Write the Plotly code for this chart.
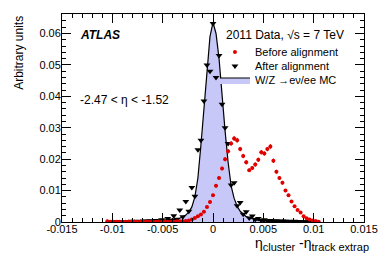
import numpy as np
import plotly.graph_objects as go

# bin centres of the eta difference histogram
eta_centres = np.round(np.arange(-0.0105, 0.01051, 0.0003), 5)

# W/Z -> enu/ee MC (filled histogram)
mc_values = [
    0.00003, 0.00004, 0.00005, 0.00006, 0.00007,
    0.00008, 0.00009, 0.00010, 0.00012, 0.00014,
    0.00016, 0.00018, 0.00020, 0.00022, 0.00024,
    0.00026, 0.00029, 0.00032, 0.00036, 0.00040,
    0.0005, 0.0006, 0.0007, 0.0009, 0.0012,
    0.0016, 0.0022, 0.0032, 0.0048, 0.0080,
    0.0140, 0.0245, 0.0360, 0.0490, 0.0590,
    0.0635,
    0.0600, 0.0520, 0.0400, 0.0290, 0.0190,
    0.0115, 0.0075, 0.0050, 0.0034, 0.0024,
    0.0017, 0.0013, 0.0010, 0.0008, 0.0006,
    0.0005, 0.00045, 0.00040, 0.00036, 0.00032,
    0.00028, 0.00025, 0.00022, 0.00020, 0.00018,
    0.00016, 0.00014, 0.00012, 0.00010, 0.00009,
    0.00008, 0.00007, 0.00005, 0.00004, 0.00003,
]

# data after alignment (black triangles)
after_values = [
    None, None, 0.0001, 0.00006, 0.00012,
    0.00008, 0.00015, 0.0001, 0.0002, 0.00014,
    0.00025, 0.00018, 0.0003, 0.00022, 0.0004,
    0.00026, 0.0005, 0.00032, 0.0007, 0.0004,
    0.0011, 0.0006, 0.0020, 0.0009, 0.0038,
    0.0017, 0.0065, 0.0034, 0.0110, 0.0082,
    0.0230, 0.0260, 0.0385, 0.0500, 0.0480,
    0.0632,
    0.0460, 0.0530, 0.0375, 0.0300, 0.0250,
    0.0118, 0.0125, 0.0052, 0.0062, 0.0025,
    0.0033, 0.0013, 0.0019, 0.0008, 0.0011,
    0.0005, 0.0007, 0.0004, 0.0005, 0.00032,
    0.0004, 0.00025, 0.0003, 0.0002, 0.00025,
    0.00016, 0.0002, 0.00012, 0.00015, 0.00009,
    0.0001, 0.00007, None, None, None,
]

# data before alignment (red points)
before_values = [
    0.0002, 0.0001, 0.0001, 0.0001, 0.0001,
    0.0001, 0.0001, 0.0001, 0.0001, 0.0001,
    0.0001, 0.0001, 0.0001, 0.0001, 0.0001,
    0.0001, 0.0001, 0.0001, 0.0001, 0.0001,
    0.0001, 0.0001, 0.0001, 0.0002, 0.0002,
    0.0002, 0.0003, 0.0005, 0.0008, 0.0013,
    0.0018, 0.0024, 0.0033, 0.0048, 0.0064,
    0.0085,
    0.0115, 0.0140, 0.0170, 0.0200, 0.0225,
    0.0250, 0.0266, 0.0260, 0.0232, 0.0210,
    0.0190, 0.0165, 0.0172, 0.0183, 0.0198,
    0.0222, 0.0218, 0.0232, 0.0240, 0.0195,
    0.0160, 0.0140, 0.0125, 0.0100, 0.0085,
    0.0065, 0.0050, 0.0038, 0.0030, 0.0018,
    0.0012, 0.0008, 0.0005, 0.0003, 0.0001,
]
before_errors = [
    0.0001, 0.0001, 0.0001, 0.0001, 0.0001,
    0.0001, 0.0001, 0.0001, 0.0001, 0.0001,
    0.0001, 0.0001, 0.0001, 0.0001, 0.0001,
    0.0001, 0.0001, 0.0001, 0.0001, 0.0001,
    0.0001, 0.0001, 0.0001, 0.0001, 0.0001,
    0.0001, 0.0002, 0.0002, 0.0002, 0.0003,
    0.0003, 0.0003, 0.0004, 0.0004, 0.0005,
    0.0005,
    0.0006, 0.0006, 0.0006, 0.0007, 0.0007,
    0.0007, 0.0008, 0.0008, 0.0007, 0.0007,
    0.0007, 0.0006, 0.0006, 0.0007, 0.0007,
    0.0007, 0.0007, 0.0007, 0.0008, 0.0007,
    0.0006, 0.0006, 0.0006, 0.0005, 0.0005,
    0.0004, 0.0004, 0.0003, 0.0003, 0.0003,
    0.0002, 0.0002, 0.0001, 0.0001, 0.0001,
]

x_tick_vals = [-0.015, -0.01, -0.005, 0, 0.005, 0.01, 0.015]
x_tick_text = ["-0.015", "-0.01", "-0.005", "0", "0.005", "0.01", "0.015"]
y_tick_vals = [0, 0.01, 0.02, 0.03, 0.04, 0.05, 0.06]
y_tick_text = ["0", "0.01", "0.02", "0.03", "0.04", "0.05", "0.06"]

FONT = "Liberation Sans, Arial, sans-serif"

fig = go.Figure()
fig.add_trace(go.Scatter(
    x=eta_centres, y=mc_values, mode="lines",
    line=dict(color="black", width=1.2, shape="linear"),
    fill="tozeroy", fillcolor="#c8c8f8",
    name="W/Z \u2192e\u03bd/ee MC", legend="legend3",
))
fig.add_trace(go.Scatter(
    x=eta_centres, y=after_values, mode="markers",
    marker=dict(symbol="triangle-down", size=6, color="black"),
    name="After alignment", legend="legend2",
))
fig.add_trace(go.Scatter(
    x=eta_centres, y=before_values, mode="markers",
    marker=dict(symbol="circle", size=4, color="#e00000"),
    error_y=dict(type="data", array=before_errors, color="#e00000", thickness=1, width=0),
    error_x=dict(type="constant", value=0.00015, color="#e00000", thickness=1, width=0),
    name="Before alignment", legend="legend",
))

def leg(ypix):
    return dict(
        x=(218 - 62) / 308, y=1 - (ypix - 14) / 208, xanchor="left", yanchor="middle",
        bgcolor="rgba(0,0,0,0)", borderwidth=0, itemwidth=30,
        font=dict(family=FONT, size=11, color="black"),
    )

axis_common = dict(
    showline=True, linecolor="black", linewidth=1, mirror="ticks",
    ticks="inside", tickcolor="black", ticklen=9, tickwidth=1,
    showgrid=False, zeroline=False,
    tickfont=dict(family=FONT, size=11, color="black"),
)

fig.update_layout(
    width=390, height=265,
    margin=dict(l=62, r=20, t=14, b=43),
    paper_bgcolor="white", plot_bgcolor="white",
    showlegend=True,
    legend=leg(52), legend2=leg(66), legend3=leg(80),
    xaxis=dict(range=[-0.015, 0.015], tickvals=x_tick_vals, ticktext=x_tick_text,
               minor=dict(ticks="inside", ticklen=4, dtick=0.001, tickcolor="black"),
               ticklabelstandoff=-3,
               **axis_common),
    yaxis=dict(range=[0, 0.0662], tickvals=y_tick_vals, ticktext=y_tick_text,
               minor=dict(ticks="inside", ticklen=4, dtick=0.002, tickcolor="black"),
               ticklabelstandoff=-2,
               **axis_common),
    annotations=[
        dict(text="<b><i>ATLAS</i></b>", xref="paper", yref="paper",
             x=(78 - 62) / 308, y=1 - (35 - 14) / 208, xanchor="left", yanchor="middle",
             showarrow=False, font=dict(family=FONT, size=12, color="black")),
        dict(text="-2.47 < \u03b7 < -1.52", xref="paper", yref="paper",
             x=(78 - 62) / 308, y=1 - (100 - 14) / 208, xanchor="left", yanchor="middle",
             showarrow=False, font=dict(family=FONT, size=12, color="black")),
        dict(text="2011 Data, \u221as = 7 TeV", xref="paper", yref="paper",
             x=(227 - 62) / 308, y=1 - (35 - 14) / 208, xanchor="left", yanchor="middle",
             showarrow=False, font=dict(family=FONT, size=12, color="black")),
        dict(text="Arbitrary units", xref="paper", yref="paper", textangle=-90,
             x=(18 - 62) / 308, y=1, xanchor="center", yanchor="top",
             showarrow=False, font=dict(family=FONT, size=12, color="black")),
        dict(text="\u03b7<sub><span style='font-size:11px'>cluster</span></sub> -\u03b7<sub><span style='font-size:11px'>track extrap</span></sub>",
             xref="paper", yref="paper",
             x=(377 - 62) / 308, y=1 - (244 - 14) / 208, xanchor="right", yanchor="middle",
             showarrow=False, font=dict(family=FONT, size=14, color="black")),
    ],
)

fig.write_html("out.html", config={"displayModeBar": False},
               post_script="document.body.style.margin='0';document.body.style.overflow='hidden';")
